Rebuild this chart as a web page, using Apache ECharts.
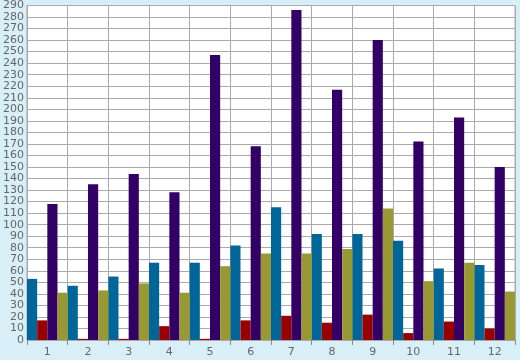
<!DOCTYPE html>
<html>
<head>
<meta charset="utf-8">
<script src="https://cdn.jsdelivr.net/npm/echarts@6/dist/echarts.min.js"></script>
<style>
html,body{margin:0;padding:0;background:#d9eff7;}
#c{width:520px;height:360px;}
</style>
</head>
<body>
<div id="c"></div>
<script>
const categories = ['1','2','3','4','5','6','7','8','9','10','11','12'];
const blueValues = [53, 47, 55, 67, 67, 82, 115, 92, 92, 86, 62, 65];
const redValues = [17, 1, 1, 12, 1, 17, 21, 15, 22, 6, 16, 10];
const purpleValues = [118, 135, 144, 128, 247, 168, 286, 217, 260, 172, 193, 150];
const oliveValues = [41, 43, 49, 41, 64, 75, 75, 79, 114, 51, 67, 42];

const chart = echarts.init(document.getElementById('c'), null, {renderer: 'canvas'});
const labelStyle = {color: '#666', fontFamily: 'DejaVu Sans', fontSize: 11, hideOverlap: false, showMinLabel: true, showMaxLabel: true};
function bar(name, data, color) {
  return {name, type: 'bar', data, itemStyle: {color}, barGap: '0%', barCategoryGap: '0%', animation: false};
}
chart.setOption({
  backgroundColor: '#d9eff7',
  animation: false,
  grid: {left: 26, right: 5, top: 5, bottom: 20, show: true, backgroundColor: '#fff', borderColor: '#aaa', borderWidth: 1, containLabel: false},
  xAxis: {
    type: 'category', data: categories,
    axisLine: {show: false},
    axisTick: {show: true, length: 5, lineStyle: {color: '#888'}},
    axisLabel: Object.assign({margin: 7, interval: 0}, labelStyle),
    splitLine: {show: true, lineStyle: {color: '#aaa', width: 1}}
  },
  yAxis: {
    type: 'value', min: 0, max: 290, interval: 10,
    axisLine: {show: false},
    axisTick: {show: false},
    axisLabel: Object.assign({margin: 3}, labelStyle),
    splitLine: {show: true, lineStyle: {color: '#aaa', width: 1}}
  },
  series: [
    bar('A', blueValues, '#006699'),
    bar('B', redValues, '#990000'),
    bar('C', purpleValues, '#330066'),
    bar('D', oliveValues, '#999933')
  ]
});
</script>
</body>
</html>
